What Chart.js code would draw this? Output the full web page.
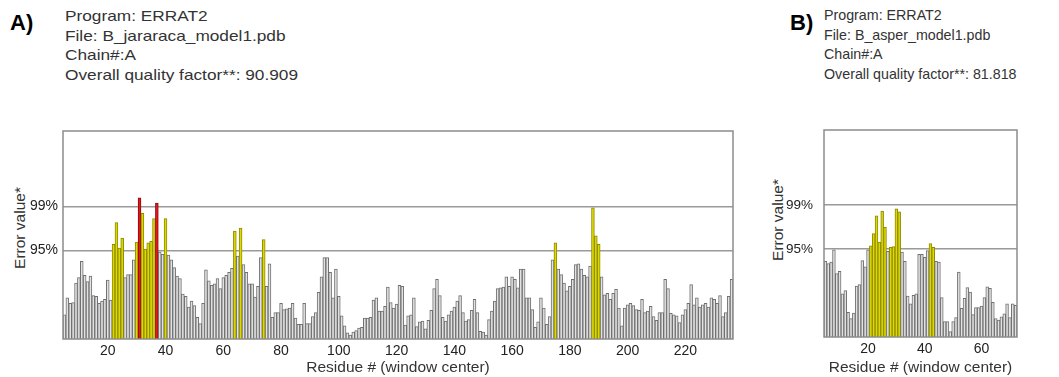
<!DOCTYPE html>
<html>
<head>
<meta charset="utf-8">
<script src="https://cdn.jsdelivr.net/npm/chart.js@4.4.1/dist/chart.umd.min.js"></script>
<style>
  html, body { margin: 0; padding: 0; background: #fff; }
  body { width: 1059px; height: 377px; position: relative; overflow: hidden;
         font-family: "Liberation Sans", Arial, sans-serif; }
  .tag { position: absolute; font-weight: bold; font-size: 22px; color: #000; }
  .info { position: absolute; font-size: 15px; line-height: 19.5px; color: #333;
          white-space: nowrap; transform-origin: 0 0; }
  .ytitle { position: absolute; font-size: 15.5px; line-height: 18px; color: #333; white-space: nowrap;
            transform-origin: 50% 50%; transform: translate(-50%, -50%) rotate(-90deg); }
  canvas { position: absolute; }
</style>
</head>
<body>
<div class="tag" style="left:10px; top:10px;">A)</div>
<div class="info" style="left:65px; top:6px; transform:scaleX(1.15);">Program: ERRAT2<br>File: B_jararaca_model1.pdb<br>Chain#:A<br>Overall quality factor**: 90.909</div>
<div class="tag" style="left:790px; top:10px;">B)</div>
<div class="info" style="left:824px; top:5px; transform:scaleX(0.95);">Program: ERRAT2<br>File: B_asper_model1.pdb<br>Chain#:A<br>Overall quality factor**: 81.818</div>
<div class="ytitle" style="left:20px; top:228px;">Error value*</div>
<div class="ytitle" style="left:778px; top:220px;">Error value*</div>

<canvas id="chartA" width="745" height="257" style="left:0; top:120px;"></canvas>
<canvas id="chartB" width="299" height="257" style="left:760px; top:120px;"></canvas>

<script>
// ERRAT2 error value per 9-residue window, indexed by window centre residue.
const firstResidueA = 5;
const errorA = [
  3.1, 5.3, 4.6, 4.7, 7.2, 7.9, 10.0, 8.2, 7.4, 8.1,
  5.6, 5.5, 4.6, 4.9, 5.1, 7.6, 5.0, 12.2, 15.0, 11.7,
  13.0, 7.9, 8.3, 8.3, 10.2, 12.5, 18.2, 16.2, 11.6, 12.4,
  12.6, 15.5, 17.5, 11.2, 10.9, 15.5, 10.8, 10.2, 9.2, 8.1,
  7.8, 5.8, 5.5, 4.1, 4.9, 4.3, 2.8, 2.0, 4.6, 8.9,
  7.5, 6.9, 7.1, 7.8, 6.5, 7.9, 8.2, 8.6, 9.1, 13.9,
  10.7, 14.3, 9.6, 8.6, 7.1, 7.1, 5.4, 6.8, 10.5, 12.8,
  6.8, 9.7, 2.8, 3.4, 3.4, 4.6, 3.8, 3.9, 4.0, 4.6,
  2.7, 1.9, 1.9, 4.6, 2.0, 2.0, 2.9, 3.4, 6.0, 8.0,
  10.5, 10.5, 8.6, 5.3, 9.0, 5.5, 3.0, 1.7, 0.8, 0.5,
  0.9, 1.1, 1.4, 1.5, 2.7, 2.7, 2.8, 5.0, 5.3, 3.6,
  3.6, 4.2, 6.7, 4.7, 4.0, 4.5, 6.9, 6.8, 1.8, 3.0,
  3.1, 5.3, 1.6, 2.2, 2.3, 1.3, 2.4, 3.7, 6.5, 7.7,
  5.6, 2.8, 2.3, 3.1, 3.6, 4.1, 4.9, 5.6, 3.4, 2.3,
  2.5, 3.7, 5.1, 3.4, 1.0, 0.9, 0.5, 2.5, 3.6, 4.9,
  6.5, 6.6, 6.7, 8.0, 6.8, 8.0, 7.7, 6.6, 9.0, 9.0,
  5.3, 5.3, 3.8, 1.5, 2.2, 5.3, 4.0, 1.9, 2.9, 10.2,
  12.4, 9.0, 8.3, 7.2, 6.2, 6.8, 7.7, 9.6, 9.7, 9.0,
  8.2, 8.0, 9.4, 16.9, 13.3, 12.2, 8.0, 5.7, 5.9, 5.1,
  5.9, 6.4, 4.0, 1.7, 4.0, 4.4, 4.6, 4.3, 3.8, 3.7,
  5.1, 3.4, 3.6, 4.2, 2.9, 2.4, 3.4, 3.4, 7.7, 6.5,
  3.3, 3.1, 3.0, 2.1, 3.1, 3.8, 4.6, 7.0, 4.4, 5.3,
  4.1, 4.4, 4.6, 4.1, 5.3, 5.1, 4.6, 5.6, 2.9, 3.4,
  5.5, 7.7
];

const firstResidueB = 5;
const errorB = [
  9.8, 9.5, 9.7, 11.3, 8.2, 8.5, 5.6, 6.0, 3.2, 2.4,
  3.1, 6.6, 6.8, 9.9, 9.1, 11.3, 11.8, 13.4, 15.7, 12.3,
  16.3, 14.2, 11.1, 11.6, 11.7, 16.6, 16.2, 11.0, 9.8, 5.3,
  4.3, 5.4, 5.6, 10.7, 10.7, 10.3, 11.2, 12.1, 11.6, 9.8,
  9.7, 5.1, 2.0, 2.0, 0.7, 2.0, 2.5, 8.4, 3.7, 5.0,
  6.4, 5.8, 2.9, 3.8, 3.8, 4.0, 5.1, 6.5, 6.3, 4.5,
  2.4, 2.2, 2.6, 3.0, 4.3, 2.5, 4.3, 4.1
];

// Confidence limits drawn as horizontal rules and their labels.
const limitValues = [11.4, 17.1];
const limitLabels = ['95%', '99%'];
const xLabelEvery = 20;
const yMax = 26.8;

const residuesOf = (first, values) => values.map((_, i) => first + i);
const residuesA = residuesOf(firstResidueA, errorA);
const residuesB = residuesOf(firstResidueB, errorB);

const FONT = '"Liberation Sans", Arial, sans-serif';

function fillFor(v) {
  if (v > limitValues[1]) return '#e8161c';
  if (v > limitValues[0]) return '#dcd800';
  return '#e2e2e2';
}
function edgeFor(v) {
  if (v > limitValues[1]) return '#8c0a0a';
  if (v > limitValues[0]) return '#8f8b00';
  return '#707070';
}

// Outline of the plotting box.
const frame = {
  id: 'frame',
  afterDraw(chart) {
    const { ctx, chartArea: a } = chart;
    ctx.save();
    ctx.strokeStyle = '#8c8c8c';
    ctx.lineWidth = 1.5;
    ctx.strokeRect(a.left, a.top, a.right - a.left, a.bottom - a.top);
    ctx.restore();
  }
};

function errat(canvasId, residues, values, box) {
  return new Chart(document.getElementById(canvasId), {
    type: 'bar',
    data: {
      labels: residues.map(String),
      datasets: [{
        data: values,
        backgroundColor: values.map(fillFor),
        borderColor: values.map(edgeFor),
        borderWidth: 1,
        borderSkipped: 'bottom',
        barPercentage: 1,
        categoryPercentage: 1
      }]
    },
    options: {
      responsive: false,
      animation: false,
      devicePixelRatio: 1,
      layout: { padding: { top: box.top, right: box.right, left: 0, bottom: 0 } },
      plugins: { legend: { display: false }, tooltip: { enabled: false } },
      scales: {
        x: {
          grid: { display: false, drawTicks: false, tickLength: 0 },
          border: { display: false },
          ticks: {
            autoSkip: false, maxRotation: 0, minRotation: 0, padding: 4,
            color: '#222', font: { family: FONT, size: 14 },
            callback: (v, i) => residues[i] % xLabelEvery === 0 ? String(residues[i]) : ''
          },
          title: {
            display: true, text: 'Residue # (window center)', color: '#333',
            font: { family: FONT, size: 15.5 }, padding: 0
          },
          afterFit: s => {
            s.height = box.xHeight;
            s.paddingLeft = 0; s.paddingRight = 0;
          }
        },
        y: {
          min: 0, max: yMax,
          grid: { color: '#9a9a9a', lineWidth: 1.5, drawTicks: false },
          border: { display: false },
          ticks: {
            padding: box.yPad, color: '#222', font: { family: FONT, size: box.yFont },
            callback: v => {
              const k = limitValues.indexOf(v);
              return k >= 0 ? limitLabels[k] : '';
            }
          },
          afterBuildTicks: s => { s.ticks = limitValues.map(v => ({ value: v })); },
          afterFit: s => {
            s.width = box.yWidth;
            s.paddingTop = 0; s.paddingBottom = 0;
          }
        }
      }
    },
    plugins: [frame]
  });
}

errat('chartA', residuesA, errorA, { top: 11, right: 12, xHeight: 38, yWidth: 63, yPad: 5, yFont: 14 });
errat('chartB', residuesB, errorB, { top: 10, right: 42, xHeight: 40, yWidth: 64, yPad: 11, yFont: 13.5 });
</script>
</body>
</html>
